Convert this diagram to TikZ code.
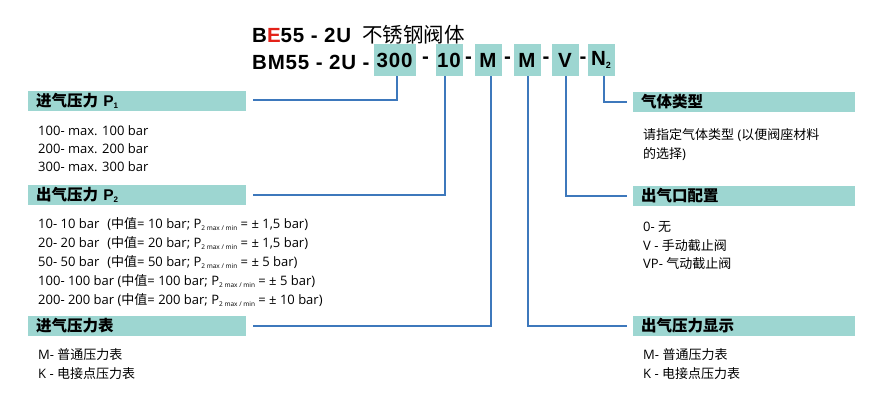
\documentclass[tikz,border=0pt]{standalone}
\usepackage{fontspec}
\setmainfont{Open Sans}
\newfontfamily\cjk{Noto Sans CJK SC}
\newfontfamily\titlef[LetterSpace=4]{Liberation Sans}
\definecolor{teal}{HTML}{9DD6D1}
\definecolor{lblue}{HTML}{3D78BC}
\definecolor{tred}{HTML}{E32219}
\newcommand{\sub}[1]{\raisebox{-2.5pt}{\fontsize{6.5}{6.5}\selectfont #1}}
\begin{document}
\begin{tikzpicture}[x=1pt,y=-1pt,
  tf/.style={font=\titlef\bfseries\fontsize{20.5}{20.5}\selectfont},
  tbox/.style={fill=teal,inner sep=0pt,minimum height=32pt,tf},
  bar/.style={fill=teal,inner sep=0pt,minimum height=20pt,anchor=west,text width=218pt,align=left,font=\cjk\bfseries\fontsize{15.5}{15.5}\selectfont},
  txt/.style={anchor=base west,inner sep=0pt,font=\fontsize{13}{13}\selectfont},
  conn/.style={draw=lblue,line width=1.1pt}]
\useasboundingbox (0,0) rectangle (885,400);
% title
\node[anchor=base west,inner sep=0pt,tf] (t1) at (252,42) {B\textcolor{tred}{E}55 - 2U {\cjk\mdseries\ 不锈钢阀体}};
\node[anchor=base west,inner sep=0pt,tf] (t2) at (252,69) {BM55 - 2U -};
\node[tbox,minimum width=42pt] (b1) at (394.5,60) {300};
\node[tf] (d1) at (425.5,60) {-};
\node[tbox,minimum width=27pt] (b2) at (449,60) {10};
\node[tf] (d2) at (468.5,60) {-};
\node[tbox,minimum width=27pt] (b3) at (488,60) {M};
\node[tf] (d3) at (507.5,60) {-};
\node[tbox,minimum width=27pt] (b4) at (527,60) {M};
\node[tf] (d4) at (546,60) {-};
\node[tbox,minimum width=27pt] (b5) at (565,60) {V};
\node[tf] (d5) at (583,60) {-};
\node[tbox,minimum width=27pt] (b6) at (601,60) {N\raisebox{-3pt}{\fontsize{9}{9}\selectfont 2}};
% left bars
\node[bar] (l1) at (28,101) {\hspace{8pt}进气压力 {\fontspec{Liberation Sans}P\raisebox{-2pt}{\fontsize{8}{8}\selectfont 1}}};
\node[bar] (l2) at (28,195) {\hspace{8pt}出气压力 {\fontspec{Liberation Sans}P\raisebox{-2pt}{\fontsize{8}{8}\selectfont 2}}};
\node[bar] (l3) at (28,326) {\hspace{8pt}进气压力表};
% right bars
\node[bar,text width=222pt] (r1) at (633,102) {\hspace{8pt}气体类型};
\node[bar,text width=222pt] (r2) at (633,196) {\hspace{8pt}出气口配置};
\node[bar,text width=222pt] (r3) at (633,326) {\hspace{8pt}出气压力显示};
% connectors
\coordinate (c1) at (397,100); \coordinate (c2) at (445,195); \coordinate (c3) at (491,326);
\coordinate (c4) at (528,326); \coordinate (c5) at (566,196); \coordinate (c6) at (604,102);
\draw[conn] (b1.south -| c1) -- (c1) -- (c1 -| 253,0);
\draw[conn] (b2.south -| c2) -- (c2) -- (c2 -| 253,0);
\draw[conn] (b3.south -| c3) -- (c3) -- (c3 -| 253,0);
\draw[conn] (b4.south -| c4) -- (c4) -- (c4 -| 627,0);
\draw[conn] (b5.south -| c5) -- (c5) -- (c5 -| 627,0);
\draw[conn] (b6.south -| c6) -- (c6) -- (c6 -| 627,0);
% left texts
\node[txt] (p1a) at (38,135) {100- max. 100 bar};
\node[txt] (p1b) at (38,153) {200- max. 200 bar};
\node[txt] (p1c) at (38,171) {300- max. 300 bar};
\node[txt] (p2a) at (38,228) {10- 10 bar\hspace{8pt}({\cjk 中值}= 10 bar; P\sub{2 max / min} = ± 1,5 bar)};
\node[txt] (p2b) at (38,247) {20- 20 bar\hspace{8pt}({\cjk 中值}= 20 bar; P\sub{2 max / min} = ± 1,5 bar)};
\node[txt] (p2c) at (38,266) {50- 50 bar\hspace{8pt}({\cjk 中值}= 50 bar; P\sub{2 max / min} = ± 5 bar)};
\node[txt] (p2d) at (38,285) {100- 100 bar ({\cjk 中值}= 100 bar; P\sub{2 max / min} = ± 5 bar)};
\node[txt] (p2e) at (38,304) {200- 200 bar ({\cjk 中值}= 200 bar; P\sub{2 max / min} = ± 10 bar)};
\node[txt] (m1) at (38,359) {M- {\cjk 普通压力表}};
\node[txt] (m2) at (38,378) {K - {\cjk 电接点压力表}};
% right texts
\node[txt] (g1) at (643,139) {{\cjk 请指定气体类型} ({\cjk 以便阀座材料}};
\node[txt] (g2) at (643,158) {{\cjk 的选择})};
\node[txt] (o1) at (643,231) {0- {\cjk 无}};
\node[txt] (o2) at (643,250) {V - {\cjk 手动截止阀}};
\node[txt] (o3) at (643,268) {VP- {\cjk 气动截止阀}};
\node[txt] (s1) at (643,359) {M- {\cjk 普通压力表}};
\node[txt] (s2) at (643,378) {K - {\cjk 电接点压力表}};
\end{tikzpicture}
\end{document}
